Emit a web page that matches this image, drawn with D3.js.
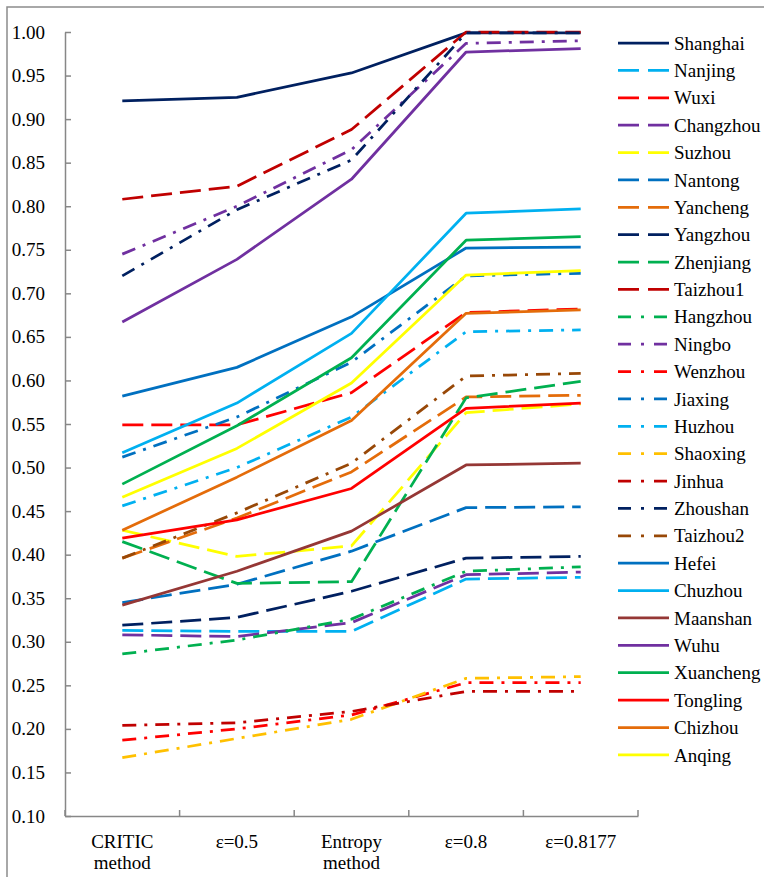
<!DOCTYPE html>
<html><head><meta charset="utf-8">
<script src="https://cdn.jsdelivr.net/npm/d3@7/dist/d3.min.js"></script>
<style>html,body{margin:0;padding:0;background:#fff;}svg{display:block;}</style>
</head><body>
<script>
const categories = ["CRITIC method", "ε=0.5", "Entropy method", "ε=0.8", "ε=0.8177"];
const yTicks = [0.10,0.15,0.20,0.25,0.30,0.35,0.40,0.45,0.50,0.55,0.60,0.65,0.70,0.75,0.80,0.85,0.90,0.95,1.00];

const cities = ["Shanghai","Nanjing","Wuxi","Changzhou","Suzhou","Nantong","Yancheng","Yangzhou","Zhenjiang","Taizhou1",
  "Hangzhou","Ningbo","Wenzhou","Jiaxing","Huzhou","Shaoxing","Jinhua","Zhoushan","Taizhou2",
  "Hefei","Chuzhou","Maanshan","Wuhu","Xuancheng","Tongling","Chizhou","Anqing"];

const Shanghai  = [0.921,0.925,0.953,0.999,0.999];
const Nanjing   = [0.313,0.312,0.312,0.372,0.374];
const Wuxi      = [0.549,0.549,0.586,0.678,0.682];
const Changzhou = [0.308,0.306,0.322,0.377,0.380];
const Suzhou    = [0.428,0.398,0.410,0.563,0.573];
const Nantong   = [0.345,0.366,0.404,0.454,0.455];
const Yancheng  = [0.396,0.442,0.495,0.581,0.583];
const Yangzhou  = [0.319,0.328,0.358,0.396,0.398];
const Zhenjiang = [0.415,0.367,0.369,0.580,0.599];
const Taizhou1  = [0.808,0.823,0.888,1.000,1.000];
const Hangzhou  = [0.286,0.302,0.326,0.381,0.386];
const Ningbo    = [0.745,0.800,0.865,0.987,0.990];
const Wenzhou   = [0.187,0.200,0.216,0.253,0.253];
const Jiaxing   = [0.512,0.558,0.621,0.720,0.723];
const Huzhou    = [0.456,0.500,0.558,0.656,0.658];
const Shaoxing  = [0.167,0.189,0.211,0.258,0.260];
const Jinhua    = [0.204,0.207,0.220,0.243,0.243];
const Zhoushan  = [0.720,0.796,0.853,0.999,0.999];
const Taizhou2  = [0.396,0.448,0.505,0.605,0.608];
const Hefei     = [0.582,0.615,0.673,0.752,0.753];
const Chuzhou   = [0.517,0.574,0.654,0.792,0.797];
const Maanshan  = [0.342,0.381,0.427,0.503,0.505];
const Wuhu      = [0.667,0.739,0.831,0.977,0.981];
const Xuancheng = [0.481,0.548,0.626,0.761,0.765];
const Tongling  = [0.419,0.440,0.476,0.568,0.574];
const Chizhou   = [0.428,0.489,0.554,0.677,0.681];
const Anqing    = [0.466,0.522,0.597,0.721,0.726];

const seriesValues = [Shanghai,Nanjing,Wuxi,Changzhou,Suzhou,Nantong,Yancheng,Yangzhou,Zhenjiang,Taizhou1,
  Hangzhou,Ningbo,Wenzhou,Jiaxing,Huzhou,Shaoxing,Jinhua,Zhoushan,Taizhou2,
  Hefei,Chuzhou,Maanshan,Wuhu,Xuancheng,Tongling,Chizhou,Anqing];

const colors = ["#002060","#00B0F0","#FF0000","#7030A0","#FFFF00","#0070C0","#E46C0A","#002060","#00B050","#C00000",
  "#00B050","#7030A0","#FF0000","#0070C0","#00B0F0","#FFC000","#C00000","#002060","#984807",
  "#0070C0","#00B0F0","#953735","#7030A0","#00B050","#FF0000","#E46C0A","#FFFF00"];
const styles = ["solid","dash","dash","dash","dash","dash","dash","dash","dash","dash",
  "dashdot","dashdot","dashdot","dashdot","dashdot","dashdot","dashdot","dashdot","dashdot",
  "solid","solid","solid","solid","solid","solid","solid","solid"];

const W = 764, H = 877;
const dashMap = {solid:null, dash:"21,8", dashdot:"14,8,3,8"};
const legDash = {solid:null, dash:"21,9", dashdot:"13,10,3,10"};

const svg = d3.select("body").append("svg").attr("width",W).attr("height",H);
svg.append("rect").attr("width",W).attr("height",H).attr("fill","#fff");
svg.append("rect").attr("x",7).attr("y",7).attr("width",W+10).attr("height",H+10)
  .attr("fill","none").attr("stroke","#8c8c8c").attr("stroke-width",1.5);

const x = d3.scaleBand().domain(categories).range([65,638]).padding(0);
const y = d3.scaleLinear().domain([0.10,1.00]).range([816,32]);
const font = "Liberation Serif";
const axisColor = "#878787";

// Y axis
const yAxis = svg.append("g").attr("transform","translate(65,0)")
  .call(d3.axisLeft(y).tickValues(yTicks).tickFormat(d3.format(".2f")).tickSizeInner(-6).tickSizeOuter(0).tickPadding(20));
yAxis.attr("font-family",font).attr("font-size",19);
yAxis.select(".domain").attr("stroke",axisColor).attr("stroke-width",1.5);
yAxis.selectAll(".tick line").attr("stroke",axisColor).attr("stroke-width",1.5);
yAxis.selectAll(".tick text").style("font-family",font).style("font-size","19px").attr("fill","#000");

// X axis
const xAxis = svg.append("g").attr("transform","translate(0,816)")
  .call(d3.axisBottom(x).tickSize(0).tickFormat(""));
xAxis.select(".domain").attr("stroke",axisColor).attr("stroke-width",1.5);
const bounds = categories.map(c => x(c) + x.bandwidth()).concat([x(categories[0])]);
svg.append("g").selectAll("line").data(bounds).join("line")
  .attr("x1",d=>d).attr("x2",d=>d).attr("y1",816).attr("y2",810)
  .attr("stroke",axisColor).attr("stroke-width",1.5);
const xl = svg.append("g").selectAll("text").data(categories).join("text")
  .attr("x",d=>x(d)+x.bandwidth()/2).attr("y",848)
  .attr("text-anchor","middle").style("font-family",font).style("font-size","19px").attr("fill","#000");
xl.each(function(d){
  const parts = d.split(" ");
  const t = d3.select(this);
  parts.forEach((p,i)=>{
    t.append("tspan").attr("x",x(d)+x.bandwidth()/2).attr("dy", i===0?0:21).text(p);
  });
});

// Lines
const line = d3.line().x((d,i)=>x(categories[i])+x.bandwidth()/2).y(d=>y(d));
const g = svg.append("g");
seriesValues.forEach((vals,k)=>{
  g.append("path").datum(vals).attr("d",line)
    .attr("fill","none").attr("stroke",colors[k]).attr("stroke-width",2.75)
    .attr("stroke-linejoin","round")
    .attr("stroke-dasharray",dashMap[styles[k]]);
});

// Legend
const leg = svg.append("g");
cities.forEach((c,k)=>{
  const yy = 43 + k*27.38;
  leg.append("line").attr("x1",618).attr("x2",669).attr("y1",yy).attr("y2",yy)
    .attr("stroke",colors[k]).attr("stroke-width",2.75)
    .attr("stroke-dasharray", legDash[styles[k]]);
  leg.append("text").attr("x",674).attr("y",yy).attr("dy","0.35em")
    .style("font-family",font).style("font-size","19px").attr("fill","#000").text(c);
});
</script>
</body></html>
